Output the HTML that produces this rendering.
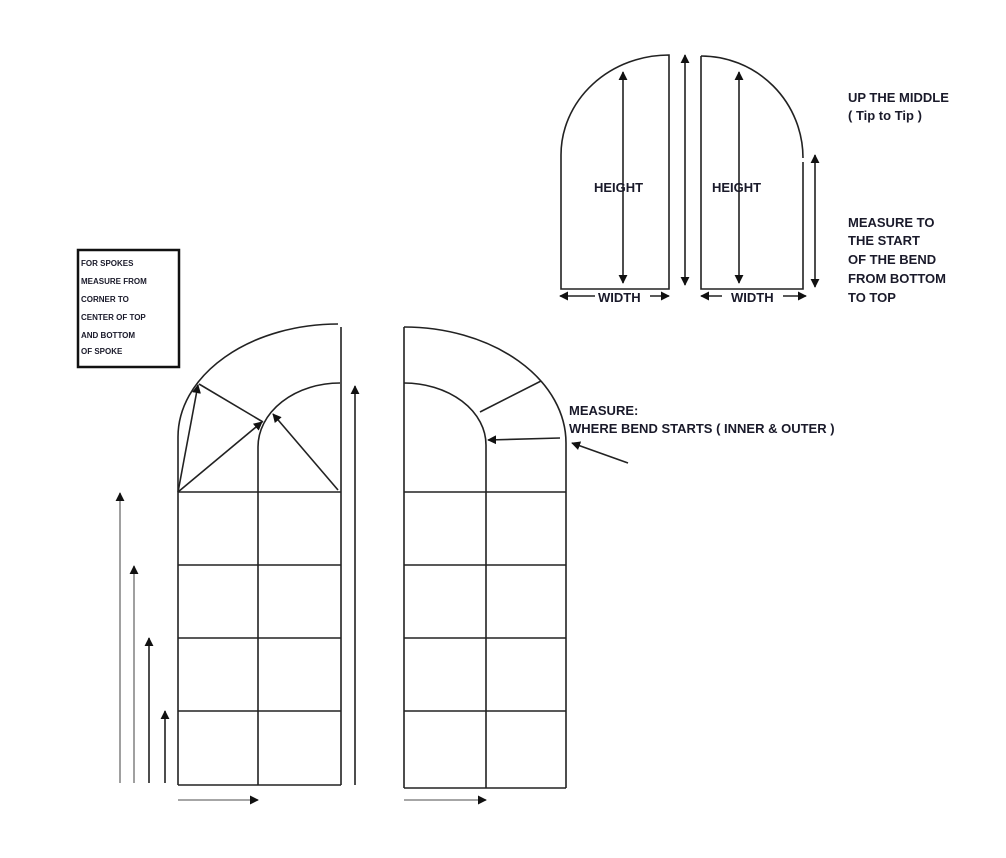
<!DOCTYPE html>
<html><head><style>
html,body{margin:0;padding:0;background:#fff;}
svg{display:block;}
text{font-family:"Liberation Sans",sans-serif;fill:#1a1a2a;}
</style></head><body>
<svg width="1006" height="858" viewBox="0 0 1006 858" xmlns="http://www.w3.org/2000/svg">
<defs>
<marker id="a" viewBox="0 0 10 10" refX="9" refY="5" markerWidth="9" markerHeight="9" markerUnits="userSpaceOnUse" orient="auto-start-reverse"><path d="M0,0L10,5L0,10z" fill="#111"/></marker>
</defs>
<g fill="none" stroke="#222" stroke-width="1.6">
<!-- top left shape -->
<path d="M561,155 A108 100 0 0 1 669 55 L669 289 L561 289 Z"/>
<line x1="623" y1="72" x2="623" y2="283" marker-start="url(#a)" marker-end="url(#a)"/>
<line x1="685" y1="55" x2="685" y2="285" marker-start="url(#a)" marker-end="url(#a)"/>
<!-- top right shape -->
<path d="M701,56 A102 102 0 0 1 803 158"/>
<path d="M803 162 L803 289 L701 289 L701 56"/>
<line x1="739" y1="72" x2="739" y2="283" marker-start="url(#a)" marker-end="url(#a)"/>
<line x1="815" y1="155" x2="815" y2="287" marker-start="url(#a)" marker-end="url(#a)"/>
<!-- width arrows -->
<line x1="560" y1="296" x2="595" y2="296" marker-start="url(#a)"/>
<line x1="650" y1="296" x2="669" y2="296" marker-end="url(#a)"/>
<line x1="701" y1="296" x2="722" y2="296" marker-start="url(#a)"/>
<line x1="783" y1="296" x2="806" y2="296" marker-end="url(#a)"/>
<!-- text box -->
<rect x="78" y="250" width="101" height="117" stroke="#111" stroke-width="2.5"/>
<!-- bottom left grid -->
<path d="M178,437 A160 113 0 0 1 338 324"/>
<path d="M258,447 A82 64 0 0 1 340 383"/>
<line x1="178" y1="437" x2="178" y2="785"/>
<line x1="258" y1="447" x2="258" y2="785"/>
<line x1="341" y1="327" x2="341" y2="785"/>
<line x1="178" y1="492" x2="341" y2="492"/>
<line x1="178" y1="565" x2="341" y2="565"/>
<line x1="178" y1="638" x2="341" y2="638"/>
<line x1="178" y1="711" x2="341" y2="711"/>
<line x1="178" y1="785" x2="341" y2="785"/>
<line x1="178" y1="492" x2="198" y2="385" marker-end="url(#a)"/>
<line x1="178" y1="492" x2="262" y2="422" marker-end="url(#a)"/>
<line x1="338" y1="490" x2="273" y2="414" marker-end="url(#a)"/>
<line x1="199" y1="384" x2="263" y2="422"/>
<line x1="355" y1="785" x2="355" y2="386" marker-end="url(#a)"/>
<line x1="120" y1="783" x2="120" y2="493" marker-end="url(#a)" stroke="#888"/>
<line x1="134" y1="783" x2="134" y2="566" marker-end="url(#a)" stroke="#888"/>
<line x1="149" y1="783" x2="149" y2="638" marker-end="url(#a)"/>
<line x1="165" y1="783" x2="165" y2="711" marker-end="url(#a)"/>
<line x1="178" y1="800" x2="258" y2="800" marker-end="url(#a)" stroke="#888"/>
<!-- bottom right grid -->
<path d="M404,327 A162 116 0 0 1 566 443"/>
<path d="M404,383 A82 62 0 0 1 486 445"/>
<line x1="404" y1="327" x2="404" y2="788"/>
<line x1="486" y1="445" x2="486" y2="788"/>
<line x1="566" y1="443" x2="566" y2="788"/>
<line x1="404" y1="492" x2="566" y2="492"/>
<line x1="404" y1="565" x2="566" y2="565"/>
<line x1="404" y1="638" x2="566" y2="638"/>
<line x1="404" y1="711" x2="566" y2="711"/>
<line x1="404" y1="788" x2="566" y2="788"/>
<line x1="480" y1="412" x2="541" y2="381"/>
<line x1="560" y1="438" x2="488" y2="440" marker-end="url(#a)"/>
<line x1="628" y1="463" x2="572" y2="443" marker-end="url(#a)"/>
<line x1="404" y1="800" x2="486" y2="800" marker-end="url(#a)" stroke="#888"/>
</g>
<g font-size="13" font-weight="bold" style="font-weight:bold">
<text x="594" y="192">HEIGHT</text>
<text x="712" y="192">HEIGHT</text>
<text x="598" y="302">WIDTH</text>
<text x="731" y="302">WIDTH</text>
<text x="848" y="102">UP THE MIDDLE</text>
<text x="848" y="120">( Tip to Tip )</text>
<text x="848" y="227">MEASURE TO</text>
<text x="848" y="245">THE START</text>
<text x="848" y="264">OF THE BEND</text>
<text x="848" y="283">FROM BOTTOM</text>
<text x="848" y="302">TO TOP</text>
<text x="569" y="415">MEASURE:</text>
<text x="569" y="433">WHERE BEND STARTS ( INNER &amp; OUTER )</text>
</g>
<g font-size="8" font-weight="bold" style="font-weight:bold">
<text x="81" y="266">FOR SPOKES</text>
<text x="81" y="284">MEASURE FROM</text>
<text x="81" y="302">CORNER TO</text>
<text x="81" y="320">CENTER OF TOP</text>
<text x="81" y="338">AND BOTTOM</text>
<text x="81" y="354">OF SPOKE</text>
</g>
</svg>
</body></html>
